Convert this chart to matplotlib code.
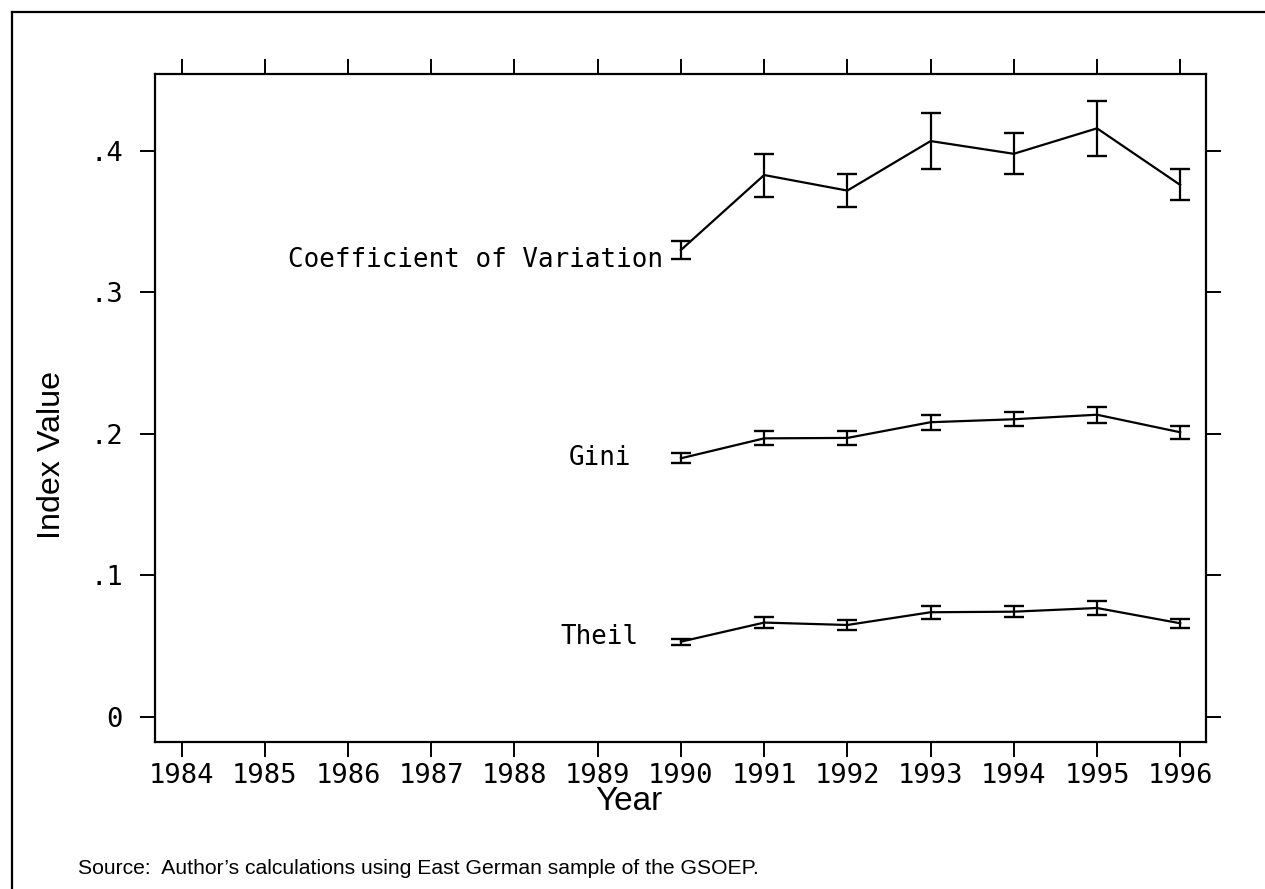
import matplotlib.pyplot as plt
from matplotlib.lines import Line2D

# data
years = [1990, 1991, 1992, 1993, 1994, 1995, 1996]
cv = [0.330, 0.383, 0.372, 0.407, 0.398, 0.416, 0.376]
cv_err = [0.0065, 0.0152, 0.0119, 0.0200, 0.0145, 0.0195, 0.0110]
gini = [0.1828, 0.1969, 0.1972, 0.2083, 0.2104, 0.2136, 0.2012]
gini_err = [0.0035, 0.0050, 0.0048, 0.0053, 0.0051, 0.0055, 0.0047]
theil = [0.0532, 0.0667, 0.0650, 0.0740, 0.0744, 0.0770, 0.0662]
theil_err = [0.0021, 0.0039, 0.0038, 0.0047, 0.0041, 0.0050, 0.0033]
series_names = ['Coefficient of Variation', 'Gini', 'Theil']

xticks = list(range(1984, 1997))
yticks = [0, 0.1, 0.2, 0.3, 0.4]
ytick_labels = ['0', '.1', '.2', '.3', '.4']

mono = 'DejaVu Sans Mono'
sans = 'Liberation Sans'

fig = plt.figure(figsize=(12.65, 8.89), dpi=100)
ax = fig.add_axes([155 / 1265, 1 - 742 / 889, 1051 / 1265, 668 / 889])

# series with error bars
for vals, errs in [(cv, cv_err), (gini, gini_err), (theil, theil_err)]:
    ax.errorbar(years, vals, yerr=errs, color='black', linewidth=1.6,
                elinewidth=1.6, capsize=7, capthick=1.7)

# labels to the left of the first point (offsets in pixels)
label_offsets = [(-18, -10), (-50, 0), (-42, 5)]
for name, vals, off in zip(series_names, [cv, gini, theil], label_offsets):
    ax.annotate(name, (years[0], vals[0]), xytext=off, textcoords='offset pixels',
                ha='right', va='center', fontsize=18.6, family=mono)

ax.set_xlim(1983.68, 1996.31)
ax.set_ylim(-0.0177, 0.4544)
ax.set_xticks(xticks)
ax.set_xticklabels([str(y) for y in xticks], family=mono, fontsize=19.5)
ax.set_yticks(yticks)
ax.set_yticklabels(ytick_labels, family=mono, fontsize=19.5)
ax.tick_params(axis='both', direction='out', length=11, width=1.4, color='black')
ax.tick_params(axis='x', top=True, bottom=True, pad=4)
ax.tick_params(axis='y', left=True, right=True, pad=12)
for s in ax.spines.values():
    s.set_linewidth(1.6)

# axis titles and note
fig.text(52 / 1265, 1 - 455 / 889, 'Index Value', rotation=90, ha='center', va='center',
         fontsize=23.2, family=sans)
fig.text(629 / 1265, 1 - 802 / 889, 'Year', ha='center', va='center',
         fontsize=24, family=sans)
fig.text(78 / 1265, 1 - 869 / 889, "Source:  Author\u2019s calculations using East German sample of the GSOEP.",
         ha='left', va='center', fontsize=15.2, family=sans)

# outer frame (top and left edges)
fig.add_artist(Line2D([12 / 1265, 1], [1 - 12 / 889, 1 - 12 / 889], color='black', linewidth=1.6,
                      transform=fig.transFigure))
fig.add_artist(Line2D([12 / 1265, 12 / 1265], [0, 1 - 12 / 889], color='black', linewidth=1.6,
                      transform=fig.transFigure))

fig.savefig('out.png', dpi=100)
